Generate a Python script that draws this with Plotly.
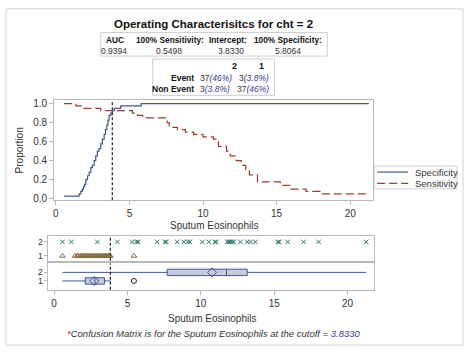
import plotly.graph_objects as go

W, H = 474, 356
FONT = "Liberation Sans, Arial, sans-serif"

# ---- data ----
spec_x = [0.56, 1.58, 1.69, 1.80, 1.88, 1.95, 2.03, 2.15, 2.26, 2.37, 2.48, 2.60, 2.71, 2.82,
          2.93, 3.05, 3.16, 3.28, 3.37, 3.46, 3.54, 3.62, 3.73, 3.83, 3.97, 4.40, 5.80, 21.27]
spec_y = [0.025, 0.05, 0.075, 0.10, 0.125, 0.15, 0.20, 0.24, 0.275, 0.325, 0.35, 0.40, 0.45, 0.50,
          0.525, 0.575, 0.625, 0.675, 0.725, 0.775, 0.825, 0.875, 0.90, 0.925, 0.95, 0.975, 1.0, 1.0]

sens_x = [0.56, 1.36, 1.81, 3.05, 5.20, 5.54, 5.90, 7.57, 7.70, 8.26, 8.80, 9.36, 10.0, 10.7,
          11.05, 11.6, 11.85, 12.25, 12.6, 12.9, 13.15, 13.7, 15.25, 15.9, 17.0, 17.95, 21.27]
sens_y = [1.0, 0.975, 0.95, 0.925, 0.90, 0.875, 0.85, 0.80, 0.75, 0.725, 0.70, 0.675, 0.65, 0.625,
          0.55, 0.50, 0.45, 0.40, 0.35, 0.30, 0.25, 0.175, 0.14, 0.10, 0.075, 0.05, 0.05]

cutoff = 3.8330

grp2_vals = [0.57, 1.18, 2.95, 4.31, 5.33, 5.62, 5.72, 7.03, 7.55, 7.65, 8.39, 8.84, 9.10, 9.25,
             10.10, 10.54, 10.95, 11.05, 11.80, 11.90, 12.00, 12.10, 12.24, 12.70, 13.16, 13.38,
             13.72, 15.25, 15.35, 15.92, 17.00, 18.03, 21.27]
grp1_vals = [0.57, 1.42, 1.58, 1.66, 1.79, 1.88, 1.93, 2.04, 2.12, 2.21, 2.30, 2.36, 2.47, 2.55,
             2.61, 2.73, 2.80, 2.88, 2.97, 3.05, 3.12, 3.21, 3.28, 3.37, 3.44, 3.50, 3.58, 3.63,
             3.71, 3.78, 3.83, 5.44]

box_groups = [2, 1]
box_low = [0.57, 0.57]
box_q1 = [7.71, 2.12]
box_med = [11.75, 2.78]
box_q3 = [13.16, 3.43]
box_high = [21.27, 3.86]
box_mean = [10.77, 2.74]
outlier_x = [5.44]
outlier_g = [1]

tbl1_head = ["AUC", "100% Sensitivity:", "Intercept:", "100% Specificity:"]
tbl1_vals = ["0.9394", "0.5498", "3.8330", "5.8064"]
legend_names = ["Specificity", "Sensitivity"]

C_SPEC = "#445694"
C_SENS = "#A23A2E"
C_X = "#2b7268"
C_TRI = "#8a6a3a"
C_FRAME = "#b9b9b9"
C_BLUE = "#3c3ca0"
SENS_DASH = "8px,4px"

def px(x):
    return x / W

def py(y):
    return 1 - y / H

fig = go.Figure()

fig.add_trace(go.Scatter(x=spec_x, y=spec_y, mode="lines", line=dict(color=C_SPEC, width=1.2, shape="hv"),
                         name=legend_names[0], showlegend=False, xaxis="x", yaxis="y"))
fig.add_trace(go.Scatter(x=sens_x, y=sens_y, mode="lines",
                         line=dict(color=C_SENS, width=1.2, shape="hv", dash=SENS_DASH),
                         name=legend_names[1], showlegend=False, xaxis="x", yaxis="y"))

fig.add_trace(go.Scatter(x=grp2_vals, y=[2] * len(grp2_vals), mode="markers", showlegend=False,
                         marker=dict(symbol="x-thin", size=4.5, line=dict(color=C_X, width=1)),
                         xaxis="x2", yaxis="y2"))
fig.add_trace(go.Scatter(x=grp1_vals, y=[1] * len(grp1_vals), mode="markers", showlegend=False,
                         marker=dict(symbol="triangle-up-open", size=5, color=C_TRI, line=dict(width=1)),
                         xaxis="x2", yaxis="y2"))

fig.add_trace(go.Box(y=box_groups, orientation="h", lowerfence=box_low, q1=box_q1, median=box_med,
                     q3=box_q3, upperfence=box_high, showlegend=False, width=0.75, whiskerwidth=0,
                     fillcolor="#c5cadd", line=dict(color=C_SPEC, width=1), boxpoints=False,
                     xaxis="x3", yaxis="y3"))
fig.add_trace(go.Scatter(x=box_mean, y=box_groups, mode="markers", showlegend=False,
                         marker=dict(symbol="diamond-open", size=7, color=C_SPEC, line=dict(width=1)),
                         xaxis="x3", yaxis="y3"))
fig.add_trace(go.Scatter(x=outlier_x, y=outlier_g, mode="markers", showlegend=False,
                         marker=dict(symbol="circle-open", size=5, color="#222", line=dict(width=1)),
                         xaxis="x3", yaxis="y3"))

axis_common = dict(showgrid=False, zeroline=False, showline=True, mirror=True, linecolor=C_FRAME,
                   linewidth=1, ticks="outside", ticklen=4, tickcolor=C_FRAME,
                   tickfont=dict(family=FONT, size=10, color="#333"))
small_y = {**axis_common, "tickfont": dict(family=FONT, size=8.5, color="#333"), "ticklen": 3}

fig.update_layout(
    width=W, height=H, margin=dict(l=0, r=0, t=0, b=0),
    paper_bgcolor="white", plot_bgcolor="white", showlegend=False,
    font=dict(family=FONT, size=10, color="#222"),
    xaxis=dict(domain=[px(53.3), px(372.5)], range=[-0.115, 21.53], tickvals=[0, 5, 10, 15, 20],
               anchor="y", **axis_common),
    yaxis=dict(domain=[py(201.7), py(100)], range=[-0.018, 1.034],
               tickvals=[0, 0.2, 0.4, 0.6, 0.8, 1.0], tickformat=".1f", anchor="x", **axis_common),
    xaxis2=dict(domain=[px(47.5), px(373.3)], range=[-0.39, 21.77], anchor="y2",
                **{**axis_common, "ticks": "", "showticklabels": False}),
    yaxis2=dict(domain=[py(263.3), py(238.3)], range=[0.65, 2.4], tickvals=[1, 2], anchor="x2",
                **small_y),
    xaxis3=dict(domain=[px(47.5), px(373.3)], range=[-0.39, 21.77], tickvals=[0, 5, 10, 15, 20],
                anchor="y3", matches="x2", **axis_common),
    yaxis3=dict(domain=[py(292.7), py(265.7)], range=[-0.03, 3.07], tickvals=[1, 2], anchor="x3",
                **small_y),
)

shapes = [
    dict(type="rect", xref="paper", yref="paper", x0=px(5), x1=px(463), y0=py(349), y1=py(7),
         line=dict(color="#d4d4d4", width=1)),
    dict(type="rect", xref="paper", yref="paper", x0=px(100), x1=px(327), y0=py(55), y1=py(31),
         line=dict(color="#cfcfcf", width=1)),
    dict(type="rect", xref="paper", yref="paper", x0=px(152), x1=px(274), y0=py(95), y1=py(58),
         line=dict(color="#cfcfcf", width=1)),
    # legend box and samples
    dict(type="rect", xref="paper", yref="paper", x0=px(374), x1=px(457), y0=py(190), y1=py(167),
         line=dict(color="#cfcfcf", width=1), fillcolor="white"),
    dict(type="line", xref="paper", yref="paper", x0=px(377), x1=px(408), y0=py(173), y1=py(173),
         line=dict(color=C_SPEC, width=1.2)),
    dict(type="line", xref="paper", yref="paper", x0=px(377), x1=px(408), y0=py(184.5), y1=py(184.5),
         line=dict(color=C_SENS, width=1.2, dash=SENS_DASH)),
]
for xr, yr in [("x", "y"), ("x2", "y2"), ("x3", "y3")]:
    shapes.append(dict(type="line", xref=xr, yref=yr + " domain", x0=cutoff, x1=cutoff, y0=0, y1=1,
                       line=dict(color="#222", width=1.2, dash="3px,2px")))
fig.update_layout(shapes=shapes)

ann = []
def text(x, y, s, size=10, xanchor="center", bold=False, color="#111", italic=False, angle=0):
    if bold:
        s = "<b>" + s + "</b>"
    if italic:
        s = "<i>" + s + "</i>"
    ann.append(dict(x=px(x), y=py(y), xref="paper", yref="paper", text=s, showarrow=False,
                    xanchor=xanchor, yanchor="middle", textangle=angle,
                    font=dict(family=FONT, size=size, color=color)))

text(213, 22, "Operating Characterisitcs for cht = 2", size=11.5, bold=True)
for cx, h in zip([114, 169, 227, 288], tbl1_head):
    text(cx, 38.5, h, size=8.3, bold=True)
for cx, v in zip([113, 168, 230, 288], tbl1_vals):
    text(cx, 50, v, size=8.5, color="#333")

def cell(n, pct):
    return n + "<i><span style='color:%s'>(%s)</span></i>" % (C_BLUE, pct)

text(239, 65.5, "2", size=9, bold=True, xanchor="right")
text(266, 65.5, "1", size=9, bold=True, xanchor="right")
text(195, 77.5, "Event", size=8.5, bold=True, xanchor="right")
text(195, 88.5, "Non Event", size=8.5, bold=True, xanchor="right")
text(233, 77.5, cell("37", "46%"), size=8.5, xanchor="right", color="#333")
text(271, 77.5, cell("3", "3.8%"), size=8.5, xanchor="right", color="#333")
text(231, 88.5, cell("3", "3.8%"), size=8.5, xanchor="right", color="#333")
text(271, 88.5, cell("37", "46%"), size=8.5, xanchor="right", color="#333")

text(413, 173, legend_names[0], size=9.5, xanchor="left", color="#333")
text(413, 184.5, legend_names[1], size=9.5, xanchor="left", color="#333")

text(18, 151, "Proportion", size=10, angle=-90, color="#333")
text(213, 227.5, "Sputum Eosinophils", size=10, color="#333")
text(211, 322, "Sputum Eosinophils", size=10, color="#333")
text(213, 337, "<span style='color:#c0392b'>*</span>Confusion Matrix is for the Sputum Eosinophils at the cutoff = "
     "<span style='color:%s'>3.8330</span>" % C_BLUE, size=9.5, italic=True, color="#333")

fig.update_layout(annotations=ann)
fig.write_html("out.html", config={"displayModeBar": False, "staticPlot": True},
               post_script="document.body.style.margin='0px';document.body.style.overflow='hidden';")
